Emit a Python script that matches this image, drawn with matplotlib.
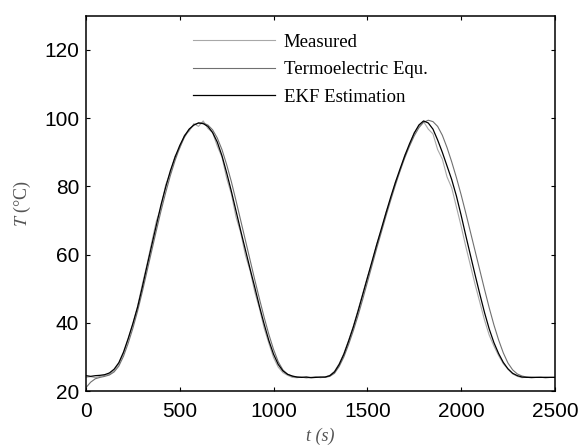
import numpy as np
import matplotlib
matplotlib.use("Agg")
import matplotlib.pyplot as plt

plt.rcParams.update({
    "font.family": "Liberation Sans",
    "mathtext.fontset": "stix",
    "font.size": 15,
})

# time grid (s), 25 s sampling
t = np.arange(0, 2501, 25)

measured = [
    24.0, 24.2, 23.9, 24.3, 24.6, 24.9, 26.0, 27.9, 31.0, 35.2,
    39.6, 44.8, 51.2, 57.0, 63.5, 69.8, 73.8, 80.5, 84.0, 88.9,
    91.2, 95.0, 96.2, 98.4, 97.6, 99.2, 97.0, 95.8, 91.8, 88.6,
    82.4, 77.8, 71.0, 66.4, 59.8, 55.3, 49.0, 44.2, 38.4, 34.0,
    29.8, 27.0, 25.4, 24.6, 24.0, 23.9, 24.1, 23.8, 24.0, 24.2,
    23.9, 24.1, 24.6, 25.8, 28.0, 31.0, 34.8, 38.9, 43.6, 48.4,
    53.3, 57.6, 63.0, 67.2, 72.4, 76.4, 81.3, 84.6, 89.2, 92.0,
    95.8, 97.6, 99.0, 96.8, 95.4, 90.8, 88.0, 82.8, 79.6, 74.0,
    68.4, 62.4, 56.8, 51.2, 46.0, 40.8, 36.4, 33.2, 30.4, 28.0,
    26.4, 25.0, 24.3, 23.9, 24.1, 23.8, 24.0, 24.1, 23.8, 24.0,
    24.0,
]

termo = [
    21.0, 22.6, 23.6, 24.0, 24.3, 24.7, 25.6, 27.3, 30.2, 34.0,
    38.4, 43.4, 49.0, 55.0, 61.0, 67.0, 72.8, 78.2, 83.2, 87.6,
    91.4, 94.4, 96.6, 98.0, 98.6, 98.6, 98.0, 96.6, 94.2, 90.8,
    86.4, 81.4, 75.8, 70.0, 64.2, 58.4, 52.6, 47.0, 41.6, 36.6,
    32.2, 28.6, 26.2, 24.9, 24.3, 24.1, 24.0, 24.0, 24.0, 24.0,
    24.0, 24.0, 24.3, 25.2, 27.2, 30.0, 33.6, 37.6, 42.0, 46.8,
    51.8, 56.8, 61.8, 66.6, 71.4, 76.0, 80.4, 84.6, 88.4, 91.8,
    94.8, 97.2, 98.8, 99.4, 99.0, 97.6, 95.0, 91.4, 87.2, 82.6,
    77.6, 72.2, 66.6, 61.0, 55.4, 49.8, 44.4, 39.4, 35.0, 31.2,
    28.2, 26.2, 25.0, 24.4, 24.1, 24.0, 24.0, 24.0, 24.0, 24.0,
    24.0,
]

ekf = [
    24.5, 24.3, 24.5, 24.6, 24.8, 25.3, 26.4, 28.3, 31.4, 35.4,
    39.8, 44.6, 50.4, 56.6, 62.6, 68.6, 74.6, 79.8, 84.6, 88.6,
    92.0, 94.8, 96.8, 98.0, 98.6, 98.4, 97.6, 95.8, 93.0, 89.0,
    84.0, 78.6, 72.8, 67.0, 61.4, 55.8, 50.4, 44.8, 39.6, 34.8,
    30.8, 27.8, 25.9, 24.9, 24.4, 24.1, 24.0, 24.1, 23.9, 24.0,
    24.1, 24.1, 24.5, 25.6, 27.8, 30.8, 34.6, 38.7, 43.3, 48.2,
    53.1, 58.0, 62.9, 67.6, 72.3, 76.9, 81.2, 85.2, 89.0, 92.5,
    95.6, 98.0, 99.2, 98.6, 96.8, 93.6, 90.0, 86.0, 82.0, 77.2,
    71.6, 65.6, 59.8, 54.0, 48.4, 43.0, 38.2, 34.2, 31.0, 28.4,
    26.5, 25.2, 24.5, 24.1, 24.0, 24.0, 24.0, 24.0, 24.0, 24.0,
    24.0,
]

labels = ["Measured", "Termoelectric Equ.", "EKF Estimation"]

fig = plt.figure(figsize=(5.81, 4.45), dpi=100)
ax = fig.add_axes([0.148, 0.1213, 0.807, 0.843])

ax.plot(t, measured, color="#a8a8a8", lw=0.8, label=labels[0])
ax.plot(t, termo, color="#707070", lw=0.8, label=labels[1])
ax.plot(t, ekf, color="black", lw=0.9, label=labels[2])

ax.set_xlim(0, 2500)
ax.set_ylim(20, 130)
ax.set_xticks([0, 500, 1000, 1500, 2000, 2500])
ax.set_yticks([20, 40, 60, 80, 100, 120])
ax.tick_params(direction="in", length=3, width=0.8, top=True, right=True)
ax.tick_params(axis="x", pad=8)
ax.tick_params(axis="y", pad=5)
for s in ax.spines.values():
    s.set_linewidth(1.1)

ax.set_ylabel("$T$ (°C)", family="Liberation Serif", fontsize=13, color="#555555", labelpad=8)
ax.set_xlabel("t (s)", family="Liberation Serif", fontstyle="italic", fontsize=13, color="#555555", labelpad=5)

leg = ax.legend(loc="upper left", bbox_to_anchor=(0.228, 0.953), frameon=False,
                prop={"family": "Liberation Serif", "size": 13.5},
                handlelength=4.4, handletextpad=0.45, labelspacing=0.55,
                borderpad=0, borderaxespad=0)

fig.savefig("out.png", dpi=100)
